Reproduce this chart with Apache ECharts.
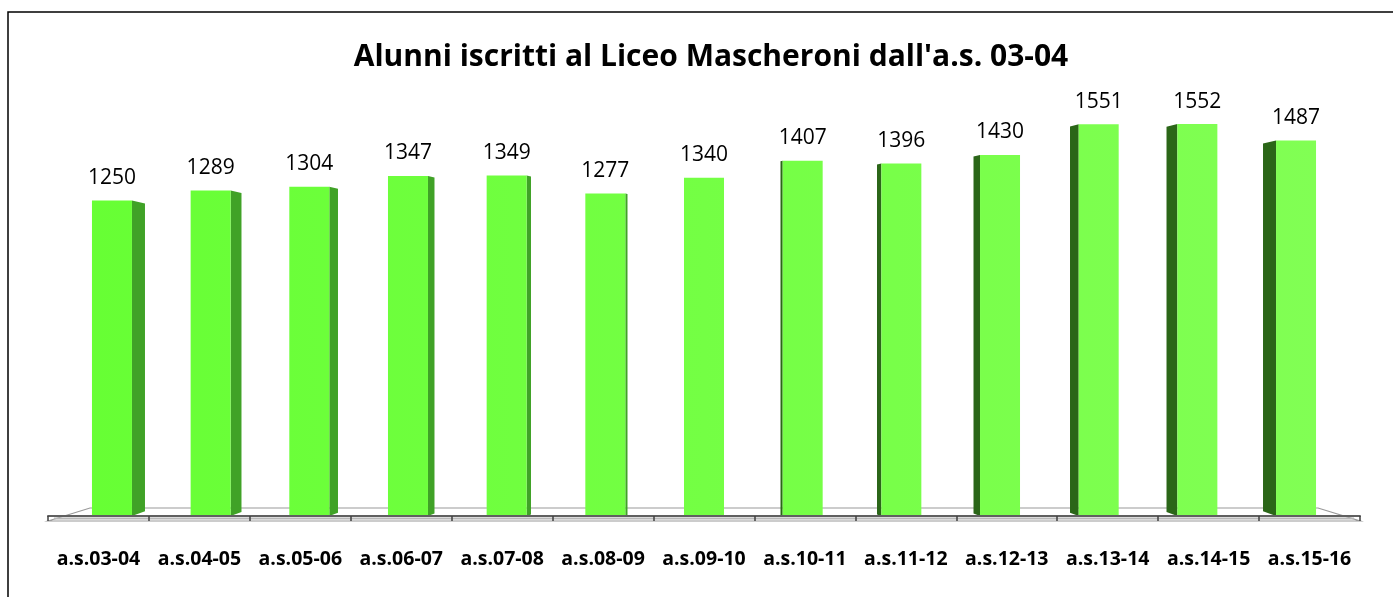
<!DOCTYPE html>
<html lang="it">
<head>
  <meta charset="UTF-8" />
  <title>Alunni iscritti</title>
  <style>
    * { margin: 0; padding: 0; }
    html, body { width: 100%; height: 100%; background: #fff; }
    #chart { width: 1393px; height: 597px; }
  </style>
</head>
<body>
  <div id="chart"></div>
  <script src="https://cdn.jsdelivr.net/npm/echarts@6/dist/echarts.min.js"></script>
  <script>
    // dati
    var anni = ['a.s.03-04', 'a.s.04-05', 'a.s.05-06', 'a.s.06-07', 'a.s.07-08', 'a.s.08-09', 'a.s.09-10',
                'a.s.10-11', 'a.s.11-12', 'a.s.12-13', 'a.s.13-14', 'a.s.14-15', 'a.s.15-16'];
    var iscritti = [1250, 1289, 1304, 1347, 1349, 1277, 1340, 1407, 1396, 1430, 1551, 1552, 1487];

    var titolo = "Alunni iscritti al Liceo Mascheroni dall'a.s. 03-04";

    var myChart = echarts.init(document.getElementById('chart'));

    // finto 3D: faccia frontale + faccia laterale verso il centro
    function renderBar(params, api) {
      var cs = params.coordSys;
      var mid = cs.x + cs.width / 2;
      var base = api.coord([api.value(0), 0]);
      var top = api.coord([api.value(0), api.value(1)]);
      var d = mid - base[0];
      var cx = base[0] + d * 0.0223;
      var half = 20;
      var x0 = cx - half, x1 = cx + half;
      var side = Math.abs(d) * 0.0215;
      var dropTop = Math.abs(d) * 0.005;
      var dropBot = Math.abs(d) * 0.008;
      var pts, sideColor;
      if (d > 0) {
        pts = [[x1, top[1]], [x1 + side, top[1] + dropTop], [x1 + side, base[1] - dropBot], [x1, base[1]]];
        sideColor = '#40a227';
      } else {
        pts = [[x0, top[1]], [x0 - side, top[1] + dropTop], [x0 - side, base[1] - dropBot], [x0, base[1]]];
        sideColor = '#2b6618';
      }
      return {
        type: 'group',
        children: [
          { type: 'polygon', shape: { points: pts }, style: { fill: sideColor } },
          {
            type: 'rect',
            shape: { x: x0, y: top[1], width: x1 - x0, height: base[1] - top[1] },
            style: {
              fill: { type: 'linear', x: cs.x, y: 0, x2: cs.x + cs.width, y2: 0, global: true,
                      colorStops: [{ offset: 0, color: '#66ff33' }, { offset: 1, color: '#82ff55' }] }
            }
          },
          {
            type: 'text',
            style: {
              text: String(api.value(1)), x: cx, y: top[1] - 12,
              align: 'center', verticalAlign: 'bottom',
              fill: '#000', fontSize: 21, fontFamily: 'Open Sans'
            }
          }
        ]
      };
    }

    // pavimento in prospettiva
    function renderFloor(params, api) {
      var cs = params.coordSys;
      var base = api.coord([0, 0])[1];
      var yf = base + 5, yb = base - 8, inset = 42;
      var xl = cs.x, xr = cs.x + cs.width;
      return {
        type: 'group',
        children: [
          {
            type: 'polygon',
            shape: { points: [[xl, yf], [xl + inset, yb], [xr - inset, yb], [xr, yf]] },
            style: { fill: '#fff', stroke: '#999', lineWidth: 1.2 }
          },
          {
            type: 'line',
            shape: { x1: xl + 6, y1: yf - 2.5, x2: xr - 6, y2: yf - 2.5 },
            style: { stroke: '#b8b8b8', lineWidth: 2 }
          }
        ]
      };
    }

    var options = {
      animation: false,
      title: {
        text: titolo,
        left: 706,
        textAlign: 'center',
        top: 37,
        textStyle: { fontFamily: 'Open Sans', fontWeight: 'bold', fontSize: 30, color: '#000' }
      },
      graphic: [{
        type: 'rect',
        shape: { x: 8, y: 12, width: 1400, height: 600 },
        style: { fill: 'none', stroke: '#000', lineWidth: 1.5 },
        silent: true
      }],
      grid: { left: 48, right: 33, top: 11, bottom: 81 },
      xAxis: {
        type: 'category',
        data: anni,
        offset: 5,
        axisLine: { lineStyle: { color: '#606060', width: 2 } },
        axisTick: { show: true, interval: 0, length: 5, lineStyle: { color: '#404040', width: 1.5 } },
        axisLabel: { interval: 0, hideOverlap: false, margin: 28, fontFamily: 'Open Sans', fontWeight: 'bold', fontSize: 19.5, color: '#000' },
        z: 5
      },
      yAxis: { type: 'value', min: 0, max: 2000, show: false, splitLine: { show: false } },
      series: [
        { type: 'custom', renderItem: renderFloor, data: [[0]], z: 1, silent: true },
        { type: 'custom', renderItem: renderBar, data: iscritti.map(function (v, i) { return [i, v]; }), z: 2 }
      ]
    };
    myChart.setOption(options);
  </script>
</body>
</html>
